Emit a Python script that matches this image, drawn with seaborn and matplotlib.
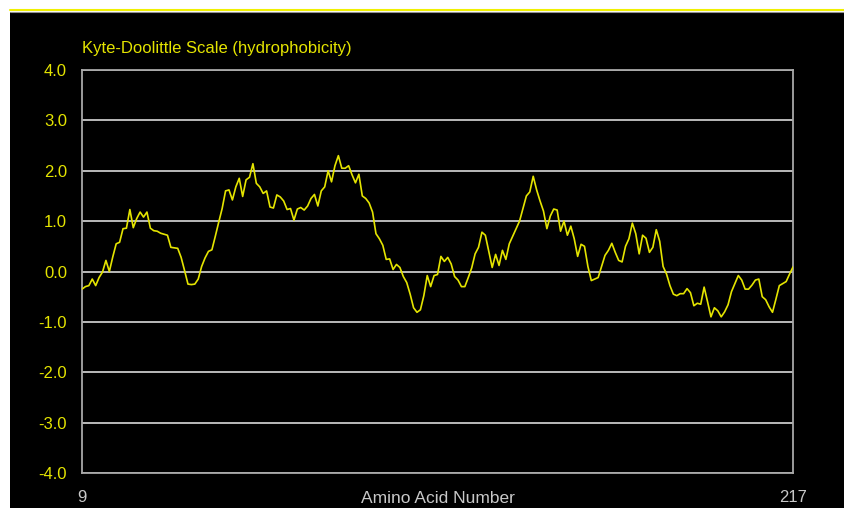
import numpy as np
import pandas as pd
import seaborn as sns
import matplotlib.pyplot as plt
from matplotlib.patches import Rectangle
from matplotlib.lines import Line2D

# hydrophobicity values, residues 9..217
residues = list(range(9, 218))
hydro = [
    -0.35, -0.30, -0.28, -0.15, -0.28, -0.12, -0.01, 0.22, 0.00, 0.29,
    0.55, 0.58, 0.85, 0.86, 1.23, 0.87, 1.05, 1.18, 1.08, 1.18,
    0.86, 0.81, 0.80, 0.76, 0.74, 0.72, 0.48, 0.47, 0.46, 0.28,
    0.02, -0.25, -0.26, -0.25, -0.15, 0.10, 0.27, 0.40, 0.43, 0.70,
    0.98, 1.25, 1.60, 1.62, 1.42, 1.68, 1.85, 1.49, 1.82, 1.87,
    2.14, 1.75, 1.68, 1.55, 1.60, 1.28, 1.26, 1.52, 1.48, 1.40,
    1.23, 1.25, 1.02, 1.24, 1.27, 1.22, 1.30, 1.45, 1.53, 1.30,
    1.60, 1.68, 2.00, 1.78, 2.10, 2.30, 2.05, 2.05, 2.10, 1.92,
    1.76, 1.93, 1.50, 1.45, 1.36, 1.18, 0.75, 0.65, 0.52, 0.24,
    0.25, 0.04, 0.14, 0.08, -0.10, -0.22, -0.45, -0.72, -0.81, -0.76,
    -0.48, -0.08, -0.30, -0.08, -0.06, 0.30, 0.20, 0.28, 0.15, -0.10,
    -0.17, -0.30, -0.30, -0.12, 0.07, 0.35, 0.48, 0.78, 0.72, 0.40,
    0.08, 0.34, 0.12, 0.42, 0.24, 0.55, 0.70, 0.85, 1.00, 1.25,
    1.50, 1.58, 1.89, 1.62, 1.40, 1.20, 0.85, 1.10, 1.24, 1.22,
    0.80, 1.00, 0.72, 0.90, 0.65, 0.30, 0.54, 0.50, 0.10, -0.18,
    -0.15, -0.12, 0.10, 0.32, 0.42, 0.56, 0.38, 0.22, 0.19, 0.50,
    0.65, 0.96, 0.75, 0.35, 0.72, 0.66, 0.38, 0.48, 0.83, 0.60,
    0.10, -0.05, -0.28, -0.45, -0.48, -0.44, -0.44, -0.34, -0.42, -0.68,
    -0.63, -0.65, -0.31, -0.60, -0.90, -0.72, -0.78, -0.90, -0.80, -0.66,
    -0.40, -0.24, -0.08, -0.17, -0.35, -0.35, -0.27, -0.17, -0.15, -0.50,
    -0.56, -0.70, -0.81, -0.55, -0.28, -0.24, -0.20, -0.05, 0.09,
]
y_ticks = [4.0, 3.0, 2.0, 1.0, 0.0, -1.0, -2.0, -3.0, -4.0]
x_ends = [9, 217]

df = pd.DataFrame({'residue': residues, 'score': hydro})

sns.set_theme(style='dark', rc={'axes.facecolor': 'black'})
plt.rcParams['font.family'] = ['Liberation Sans', 'DejaVu Sans']

yellow = '#e4e400'
grey = '#c8c8c8'

fig = plt.figure(figsize=(8.45, 5.08), dpi=100, facecolor='white')
# black panel and thin yellow rule at the top
fig.patches.append(Rectangle((10/845, 0), 1, (508-12)/508, transform=fig.transFigure,
                             facecolor='black', edgecolor='none', zorder=-10))
fig.lines.append(Line2D([10/845, 1], [1-9.5/508]*2, transform=fig.transFigure,
                        color='#f0f000', lw=1.5, zorder=-5))
fig.lines.append(Line2D([10/845, 1], [1-12/508]*2, transform=fig.transFigure,
                        color='#909090', lw=0.8, zorder=-5))

ax = fig.add_axes([82/845, 35/508, (793-82)/845, (473-70)/508])
ax.set_zorder(5)
ax.set_facecolor('black')

sns.lineplot(data=df, x='residue', y='score', ax=ax, color=yellow, lw=1.2, zorder=3)

ax.set_xlim(9, 217)
ax.set_ylim(-4, 4)
ax.set_yticks(y_ticks)
ax.set_yticklabels([f'{v:.1f}' for v in y_ticks], color=yellow, fontsize=12)
ax.set_xticks(x_ends)
ax.set_xticklabels([str(v) for v in x_ends], color=grey, fontsize=12)
ax.tick_params(axis='y', length=0, pad=10.8)
ax.tick_params(axis='x', length=0, pad=12.5)
ax.grid(False)
for v in y_ticks:
    ax.axhline(v, color=grey, lw=1.3, zorder=1)
for s in ax.spines.values():
    s.set_visible(True)
    s.set_color('#a8a8a8')
    s.set_linewidth(1.3)

ax.set_xlabel('')
ax.set_ylabel('')
ax.text(0.5, -0.045, 'Amino Acid Number', transform=ax.transAxes, ha='center', va='top',
        color=grey, fontsize=12.5)
ax.text(0, 1.053, 'Kyte-Doolittle Scale (hydrophobicity)', transform=ax.transAxes,
        ha='left', va='center', color=yellow, fontsize=12)

plt.savefig('out.png', dpi=100, facecolor='white')
